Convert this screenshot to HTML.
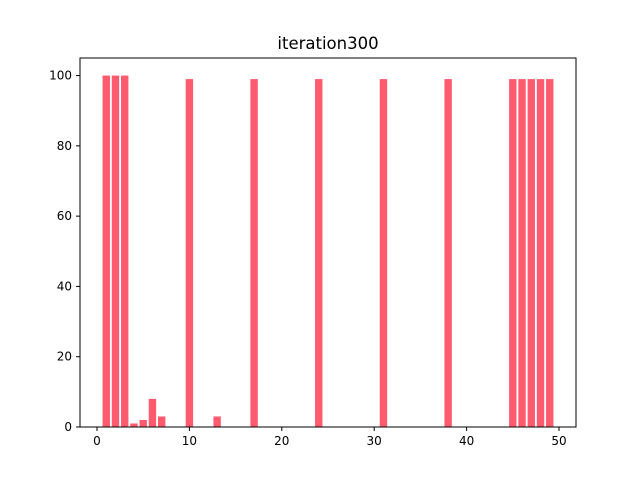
<!DOCTYPE html>
<html><head><meta charset="utf-8"><style>
body{margin:0;background:#fff;}
svg{display:block;font-family:"DejaVu Sans","Liberation Sans",sans-serif;}
</style></head><body>
<svg id="chart" width="640" height="480">
<rect width="640" height="480" fill="#fff"/>
<text x="328" y="49" text-anchor="middle" font-size="16.5">iteration300</text>
<g id="bars"></g>
<g id="axes"></g>
</svg>
<script>
const categories = [];
for (let i = 0; i < 50; i++) categories.push(i);
const values = [0,100,100,100,1,2,8,3,0,0,99,0,0,3,0,0,0,99,0,0,0,0,0,0,99,0,0,0,0,0,0,99,0,0,0,0,0,0,99,0,0,0,0,0,0,99,99,99,99,99];
const xTicks = [0,10,20,30,40,50];
const yTicks = [0,20,40,60,80,100];

const L=80,R=576,T=58,B=427;
const xMin=-1.84,xMax=51.84,yMax=105;
const xs=v=>L+(v-xMin)/(xMax-xMin)*(R-L);
const ys=v=>B-v/yMax*(B-T);
const NS="http://www.w3.org/2000/svg";
const bars=document.getElementById('bars'), axes=document.getElementById('axes');
function mk(tag,attrs,parent){const e=document.createElementNS(NS,tag);for(const k in attrs)e.setAttribute(k,attrs[k]);parent.appendChild(e);return e;}
categories.forEach((c,i)=>{
  const v=values[i]; if(!v) return;
  const r=mk('rect',{x:xs(c-0.4),y:ys(v),width:xs(c+0.4)-xs(c-0.4),height:ys(0)-ys(v),fill:'#ff5a6e'},bars);
  
  
});
const frame=mk('rect',{x:L,y:T,width:R-L,height:B-T,fill:'none',stroke:'#000','stroke-width':1},axes);


xTicks.forEach(t=>{
  const x=xs(t);
  mk('line',{x1:x,x2:x,y1:B,y2:B+4,stroke:'#000'},axes);
  const tx=mk('text',{x:x,y:B+18,'text-anchor':'middle','font-size':'12'},axes);
  tx.textContent=t;
  
  
});
yTicks.forEach(t=>{
  const y=ys(t);
  mk('line',{x1:L-4,x2:L,y1:y,y2:y,stroke:'#000'},axes);
  const tx=mk('text',{x:L-8,y:y+4,'text-anchor':'end','font-size':'12'},axes);
  tx.textContent=t;
  
  
});
</script>
</body></html>
